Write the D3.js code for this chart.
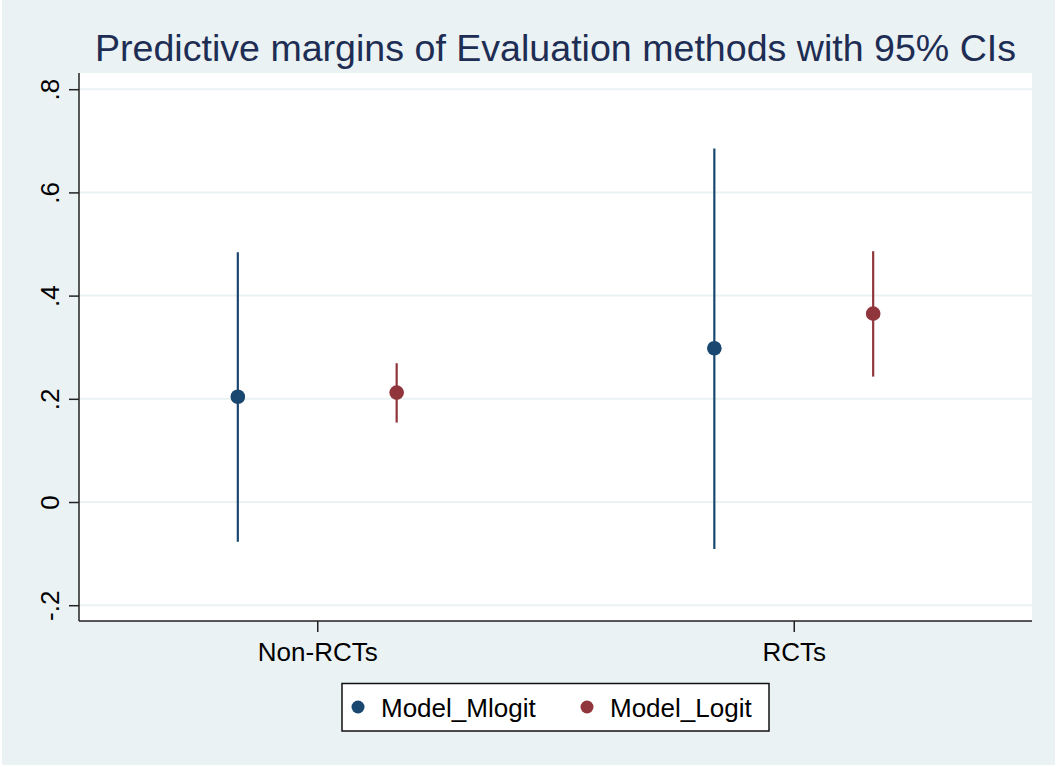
<!DOCTYPE html>
<html>
<head>
<meta charset="utf-8">
<script src="https://cdn.jsdelivr.net/npm/d3@7"></script>
<style>
  body { margin: 0; background: #fff; }
  svg { display: block; font-family: Arial, "Liberation Sans", sans-serif; }
</style>
</head>
<body>
<svg width="1058" height="767"></svg>
<script>
'use strict';

// data
var categories = ["Non-RCTs", "RCTs"];
var seriesNames = ["Model_Mlogit", "Model_Logit"];
var colors = ["#1a476f", "#90353b"];
var margins = [[0.204, 0.298], [0.212, 0.365]];
var ciLow = [[-0.077, -0.091], [0.154, 0.243]];
var ciHigh = [[0.484, 0.685], [0.269, 0.486]];
var yTicks = [-0.2, 0, 0.2, 0.4, 0.6, 0.8];
var yTickLabels = ["-.2", "0", ".2", ".4", ".6", ".8"];
var title = "Predictive margins of Evaluation methods with 95% CIs";

var svg = d3.select('svg');
var width = +svg.attr('width');
var height = +svg.attr('height');

var plot = { left: 79, right: 1032, top: 73, bottom: 621 };

// background
svg.append('rect')
  .attr('x', 2).attr('y', 0)
  .attr('width', width - 5).attr('height', height - 2)
  .attr('fill', '#eaf2f3');

svg.append('rect')
  .attr('x', plot.left).attr('y', plot.top)
  .attr('width', plot.right - plot.left).attr('height', plot.bottom - plot.top)
  .attr('fill', '#fff');

var x = d3.scaleLinear().domain([0.5, 2.5]).range([plot.left, plot.right]);
var y = d3.scaleLinear().domain([-0.2306, 0.8314]).range([plot.bottom, plot.top]);
var offset = [-1 / 6, 1 / 6];

// gridlines
svg.append('g')
  .selectAll('line')
  .data(yTicks)
  .enter()
  .append('line')
  .attr('x1', plot.left).attr('x2', plot.right)
  .attr('y1', function (d) { return y(d); })
  .attr('y2', function (d) { return y(d); })
  .attr('stroke', '#eaf2f3')
  .attr('stroke-width', 2);

// y axis
var yAxis = svg.append('g')
  .attr('transform', 'translate(' + plot.left + ',0)')
  .call(d3.axisLeft(y).tickValues(yTicks).tickSize(10)
    .tickFormat(function (d, i) { return yTickLabels[i]; }));
yAxis.select('.domain').attr('stroke', '#222').attr('stroke-width', 1.5)
  .attr('d', 'M0,' + plot.top + 'V' + plot.bottom);
yAxis.selectAll('.tick line').attr('stroke', '#222').attr('stroke-width', 1.5);
yAxis.selectAll('.tick text')
  .attr('x', null).attr('dy', null)
  .attr('transform', 'translate(-20,0) rotate(-90)')
  .attr('text-anchor', 'middle')
  .attr('font-size', 26)
  .attr('fill', '#000');

// x axis
var xAxis = svg.append('g')
  .attr('transform', 'translate(0,' + plot.bottom + ')')
  .call(d3.axisBottom(x).tickValues([1, 2]).tickSize(11)
    .tickFormat(function (d) { return categories[d - 1]; }));
xAxis.select('.domain').attr('stroke', '#222').attr('stroke-width', 1.5)
  .attr('d', 'M' + plot.left + ',0H' + plot.right);
xAxis.selectAll('.tick line').attr('stroke', '#222').attr('stroke-width', 1.5);
xAxis.selectAll('.tick text')
  .attr('y', 40).attr('dy', null)
  .attr('font-size', 26)
  .attr('fill', '#000');

// CIs and points
seriesNames.forEach(function (name, s) {
  var g = svg.append('g');
  g.selectAll('line')
    .data(categories)
    .enter()
    .append('line')
    .attr('x1', function (d, i) { return x(i + 1 + offset[s]); })
    .attr('x2', function (d, i) { return x(i + 1 + offset[s]); })
    .attr('y1', function (d, i) { return y(ciLow[s][i]); })
    .attr('y2', function (d, i) { return y(ciHigh[s][i]); })
    .attr('stroke', colors[s])
    .attr('stroke-width', 2.2);
  g.selectAll('circle')
    .data(categories)
    .enter()
    .append('circle')
    .attr('cx', function (d, i) { return x(i + 1 + offset[s]); })
    .attr('cy', function (d, i) { return y(margins[s][i]); })
    .attr('r', 7.3)
    .attr('fill', colors[s]);
});

// title
svg.append('text')
  .attr('x', (plot.left + plot.right) / 2)
  .attr('y', 61)
  .attr('text-anchor', 'middle')
  .attr('font-size', 37.6)
  .attr('fill', '#1e2d53')
  .text(title);

// legend
var legend = svg.append('g');
legend.append('rect')
  .attr('x', 342).attr('y', 683.5)
  .attr('width', 427).attr('height', 47.5)
  .attr('fill', '#fff')
  .attr('stroke', '#111')
  .attr('stroke-width', 1.5);
var legendX = [358, 587];
seriesNames.forEach(function (name, s) {
  legend.append('circle')
    .attr('cx', legendX[s]).attr('cy', 707)
    .attr('r', 6.5)
    .attr('fill', colors[s]);
  legend.append('text')
    .attr('x', legendX[s] + 23).attr('y', 716.5)
    .attr('font-size', 26)
    .attr('fill', '#000')
    .text(name);
});
</script>
</body>
</html>
